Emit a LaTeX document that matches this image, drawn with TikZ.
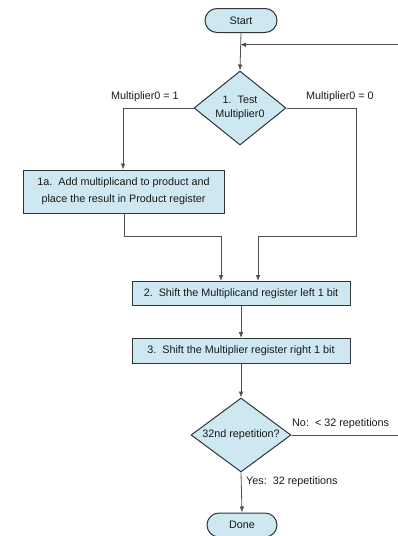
\documentclass[tikz,border=0pt]{standalone}
\usepackage{fontspec}
\setmainfont{Liberation Sans}
\usetikzlibrary{shapes.geometric,shapes.misc,arrows.meta}
\definecolor{boxfill}{HTML}{CDE8F1}
\definecolor{boxline}{HTML}{2E3638}
\definecolor{conn}{HTML}{505050}
\begin{document}
\begin{tikzpicture}[x=1pt,y=-1pt,
  every node/.style={font=\fontsize{10.8}{17}\selectfont, text=black!90},
  term/.style={rounded rectangle, draw=boxline, fill=boxfill, line width=1pt, minimum width=72pt, minimum height=24pt, inner sep=0pt},
  proc/.style={rectangle, draw=boxline, fill=boxfill, line width=1pt, inner sep=0pt, align=center},
  dec/.style={diamond, draw=boxline, fill=boxfill, line width=1pt, inner sep=0pt, align=center},
  conline/.style={draw=conn, line width=0.8pt},
  arr/.style={conline, -{Latex[length=6pt,width=4.5pt]}},
  lbl/.style={inner sep=0pt}
]
\useasboundingbox (0,0) rectangle (398,536);
\node[term] (start) at (241,20.5) {Start};
\node[dec, minimum width=92pt, minimum height=74pt, font=\fontsize{10.8}{14}\selectfont] (d1) at (240,108) {\makebox[0pt]{1.\ \ Test}\\\makebox[0pt]{Multiplier0}};
\node[proc, minimum width=201pt, minimum height=43pt] (b1) at (123.5,191.5) {1a.\ \ Add multiplicand to product and\\place the result in Product register};
\node[proc, minimum width=218pt, minimum height=24pt] (b2) at (241,293.5) {2.\ \ Shift the Multiplicand register left 1 bit};
\node[proc, minimum width=218pt, minimum height=25pt] (b3) at (241,351) {3.\ \ Shift the Multiplier register right 1 bit};
\node[dec, minimum width=100pt, minimum height=74pt] (d2) at (241,435) {\makebox[0pt]{32nd repetition?}};
\node[term, minimum width=70pt] (done) at (242,525) {Done};

\coordinate (loopin) at (398,44.7);
\coordinate (loopjoin) at (240,44.7);
\coordinate (lcorner) at (123,108);
\coordinate (rcorner) at (356,108);
\coordinate (rdown) at (356,236);
\coordinate (rin) at (258,236);
\coordinate (lout) at (124,213);
\coordinate (ldown) at (124,236);
\coordinate (lin) at (221,236);
\coordinate (noend) at (398,435);

\draw[arr] (start.south) -- (d1.north);
\draw[arr] (loopin) -- (loopjoin);
\draw[arr] (d1.west) -- (lcorner) -- (b1.north -| lcorner);
\draw[arr] (d1.east) -- (rcorner) -- (rdown) -- (rin) -- (b2.north -| rin);
\draw[arr] (lout) -- (ldown) -- (lin) -- (b2.north -| lin);
\draw[arr] (b2.south) -- (b3.north);
\draw[arr] (b3.south) -- (d2.north);
\draw[conline] (d2.east) -- (noend);
\draw[arr] (d2.south) -- (done.north);

\node[lbl] (l1) at (145,97) {Multiplier0 = 1};
\node[lbl] (l0) at (340,97) {Multiplier0 = 0};
\node[lbl, anchor=west] (lno) at (292,424) {No:\ \ < 32 repetitions};
\node[lbl, anchor=west] (lyes) at (246,482) {Yes:\ \ 32 repetitions};
\end{tikzpicture}
\end{document}
